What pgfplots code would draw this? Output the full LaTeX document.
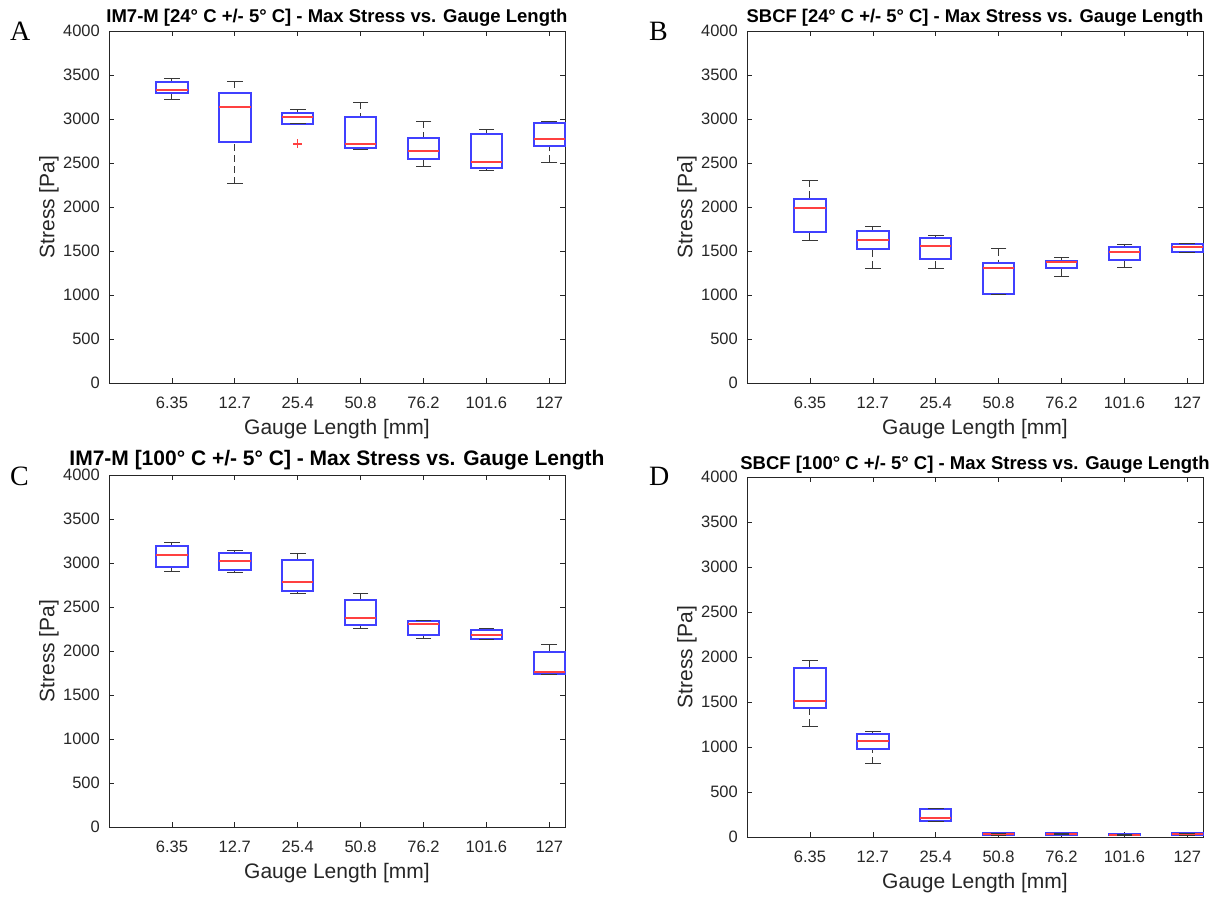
\documentclass[border=0pt]{standalone}
\usepackage{fontspec}
\setmainfont{Liberation Sans}
\newfontfamily\letterfont{Liberation Serif}
\usepackage{pgfplots}
\pgfplotsset{compat=1.18}

\definecolor{axgray}{rgb}{0.15,0.15,0.15}
\definecolor{whgray}{rgb}{0.22,0.22,0.22}
\definecolor{mlblue}{rgb}{0.25,0.25,1}
\definecolor{mlred}{rgb}{1,0.25,0.25}

\pgfplotsset{
  mlaxis/.style={
    scale only axis, width=456pt, anchor=south west,
    xmin=0, xmax=7.25, ymin=0, ymax=4000,
    clip=false,
    xtick={1,2,3,4,5,6,7},
    xticklabels={6.35,12.7,25.4,50.8,76.2,101.6,127},
    ytick={0,500,1000,1500,2000,2500,3000,3500,4000},
    yticklabels={0,500,1000,1500,2000,2500,3000,3500,4000},
    tick align=inside, major tick length=5pt,
    axis line style={color=axgray, line width=0.7pt},
    tick style={color=axgray, line width=0.6pt},
    ticklabel style={font=\fontsize{16.5}{18}\selectfont, color=axgray},
    yticklabel style={anchor=east, inner sep=0pt, xshift=-9pt},
    xticklabel style={anchor=north, inner sep=0pt, yshift=-14pt},
    xlabel={Gauge Length [mm]}, ylabel={Stress [Pa]},
    label style={font=\fontsize{21}{24}\selectfont, color=axgray},
    ylabel style={at={(axis description cs:-0.1316,0.5)}, anchor=center, inner sep=0pt},
    title style={at={(axis description cs:0.5,1)}, anchor=base, inner sep=0pt},
  },
  mlwhisk/.style={color=whgray, line width=1pt, dash pattern=on 7pt off 4pt},
  mlcap/.style={color=whgray, only marks, mark=-, mark size=7.86pt, mark options={line width=1pt, solid}},
  mlbox/.style={color=mlblue, line width=2pt, line cap=rect, line join=miter},
  mlmed/.style={color=mlred, line width=2pt},
}

% \bx{centre}{box left}{box right}{lower whisker}{lower quartile}{median}{upper quartile}{upper whisker}
\newcommand{\bx}[8]{%
  \addplot[mlwhisk] coordinates {(#1,#4) (#1,#5)};
  \addplot[mlwhisk] coordinates {(#1,#8) (#1,#7)};
  \addplot[mlcap] coordinates {(#1,#4) (#1,#8)};
  \addplot[mlbox] coordinates {(#2,#5) (#3,#5) (#3,#7) (#2,#7) (#2,#5)};
  \addplot[mlmed] coordinates {(#2,#6) (#3,#6)};
}

\begin{document}
\begin{tikzpicture}
\useasboundingbox (0,0) rectangle (1214pt,898pt);

% ---------------- A ----------------
\begin{axis}[mlaxis, at={(109pt,515pt)}, height=352pt,
  xlabel style={at={(axis description cs:0.5,-0.1449)}, anchor=base, inner sep=0pt},
  title={IM7-M [24° C +/- 5° C] - Max Stress vs. Gauge Length},
  title style={font=\bfseries\fontsize{18.5}{20}\selectfont, yshift=2pt}]
\bx{1}{0.75}{1.25}{3223}{3291}{3328}{3415}{3460}
\bx{2}{1.75}{2.25}{2264}{2736}{3140}{3291}{3430}
\bx{3}{2.75}{3.25}{2947}{2947}{3026}{3068}{3106}
\bx{4}{3.75}{4.25}{2657}{2672}{2721}{3023}{3189}
\bx{5}{4.75}{5.25}{2460}{2543}{2642}{2781}{2977}
\bx{6}{5.75}{6.25}{2419}{2445}{2517}{2834}{2875}
\bx{7}{6.75}{7.25}{2506}{2698}{2770}{2951}{2977}
\addplot[color=mlred, only marks, mark=+, mark size=4.5pt, mark options={line width=1.4pt}] coordinates {(3,2717)};
\end{axis}

% ---------------- B ----------------
\begin{axis}[mlaxis, at={(747pt,515pt)}, height=352pt,
  xlabel style={at={(axis description cs:0.5,-0.1449)}, anchor=base, inner sep=0pt},
  title={SBCF [24° C +/- 5° C] - Max Stress vs. Gauge Length},
  title style={font=\bfseries\fontsize{18.4}{20}\selectfont, yshift=2pt}]
\bx{1}{0.75}{1.25}{1623}{1717}{1992}{2087}{2302}
\bx{2}{1.75}{2.25}{1306}{1525}{1626}{1725}{1777}
\bx{3}{2.75}{3.25}{1306}{1404}{1558}{1645}{1679}
\bx{4}{3.75}{4.25}{1000}{1011}{1309}{1366}{1528}
\bx{5}{4.75}{5.25}{1211}{1302}{1370}{1392}{1423}
\bx{6}{5.75}{6.25}{1313}{1400}{1487}{1551}{1574}
\bx{7}{6.75}{7.25}{1483}{1487}{1540}{1574}{1585}
\end{axis}

% ---------------- C ----------------
\begin{axis}[mlaxis, at={(109pt,71pt)}, height=352pt,
  xlabel style={at={(axis description cs:0.5,-0.1449)}, anchor=base, inner sep=0pt},
  title={IM7-M [100° C +/- 5° C] - Max Stress vs. Gauge Length},
  title style={font=\bfseries\fontsize{21}{23}\selectfont, yshift=4pt}]
\bx{1}{0.75}{1.25}{2906}{2956}{3096}{3198}{3232}
\bx{2}{1.75}{2.25}{2887}{2921}{3020}{3111}{3145}
\bx{3}{2.75}{3.25}{2649}{2679}{2789}{3031}{3103}
\bx{4}{3.75}{4.25}{2259}{2290}{2380}{2585}{2657}
\bx{5}{4.75}{5.25}{2138}{2180}{2308}{2339}{2350}
\bx{6}{5.75}{6.25}{2127}{2142}{2184}{2237}{2255}
\bx{7}{6.75}{7.25}{1737}{1741}{1760}{1991}{2070}
\end{axis}

% ---------------- D ----------------
\begin{axis}[mlaxis, at={(747pt,61pt)}, height=360pt,
  xlabel style={at={(axis description cs:0.5,-0.1417)}, anchor=base, inner sep=0pt},
  title={SBCF [100° C +/- 5° C] - Max Stress vs. Gauge Length},
  title style={font=\bfseries\fontsize{18.5}{20}\selectfont, yshift=2pt}]
\bx{1}{0.75}{1.25}{1233}{1437}{1515}{1881}{1959}
\bx{2}{1.75}{2.25}{815}{978}{1067}{1141}{1170}
\bx{3}{2.75}{3.25}{167}{181}{211}{315}{315}
\bx{4}{3.75}{4.25}{22}{22}{33}{40}{40}
\bx{5}{4.75}{5.25}{26}{26}{37}{44}{44}
\bx{6}{5.75}{6.25}{18}{18}{26}{33}{33}
\bx{7}{6.75}{7.25}{22}{22}{33}{40}{40}
\end{axis}

% panel letters
\node[anchor=base west, inner sep=0pt, font=\letterfont\fontsize{28}{30}\selectfont] at (10pt,857pt) {A};
\node[anchor=base west, inner sep=0pt, font=\letterfont\fontsize{28}{30}\selectfont] at (649pt,857pt) {B};
\node[anchor=base west, inner sep=0pt, font=\letterfont\fontsize{28}{30}\selectfont] at (10pt,413pt) {C};
\node[anchor=base west, inner sep=0pt, font=\letterfont\fontsize{28}{30}\selectfont] at (649pt,413pt) {D};
\end{tikzpicture}
\end{document}
